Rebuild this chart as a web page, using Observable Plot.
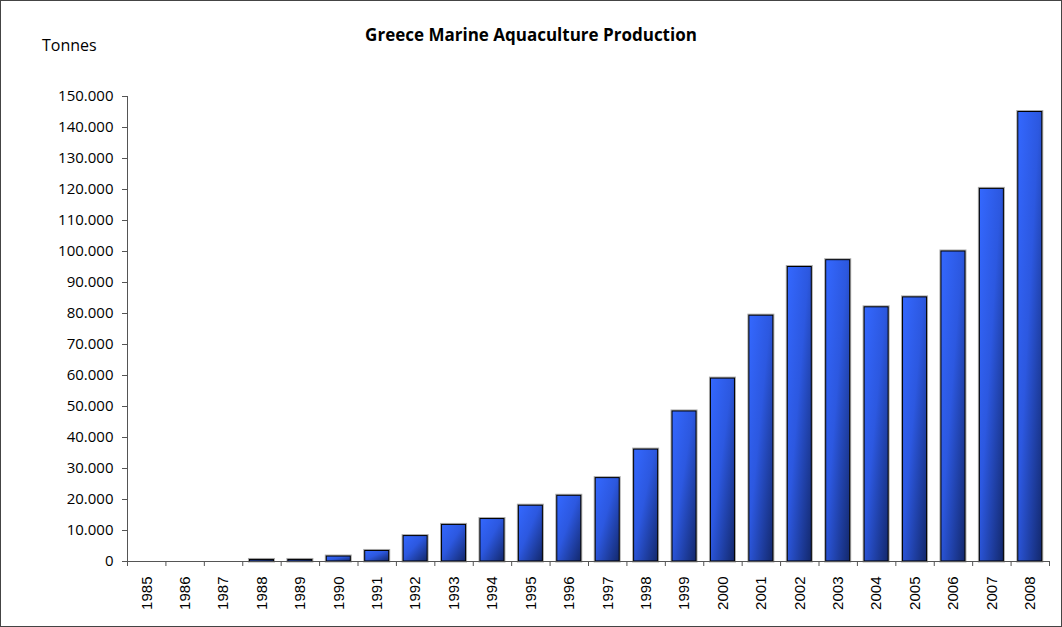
<!DOCTYPE html>
<html>
<head>
<meta charset="utf-8">
<script src="https://cdn.jsdelivr.net/npm/d3@7"></script>
<script src="https://cdn.jsdelivr.net/npm/@observablehq/plot@0.6"></script>
<style>
  html, body { margin: 0; padding: 0; background: #fff; }
  #wrap { position: relative; width: 1062px; height: 627px; }
  #wrap svg { display: block; outline: 1px solid #444; outline-offset: -1px; }
  #title { position: absolute; left: 0; width: 1062px; top: 23px; text-align: center;
           font-family: 'Open Sans', sans-serif; font-weight: bold; font-size: 17px; color: #000; }
  #unit { position: absolute; left: 42px; top: 34px; font-family: 'Open Sans', sans-serif; font-size: 16px; color: #000; }
</style>
</head>
<body>
<div id="wrap">
  <div id="title">Greece Marine Aquaculture Production</div>
  <div id="unit">Tonnes</div>
</div>
<script>
const years = [1985,1986,1987,1988,1989,1990,1991,1992,1993,1994,1995,1996,1997,1998,1999,2000,2001,2002,2003,2004,2005,2006,2007,2008];
const tonnes = [0,0,0,500,500,1600,3400,8200,11800,13700,18000,21200,26900,36100,48400,59000,79300,95000,97200,82000,85200,100000,120200,145000];
const yTicks = [0,10000,20000,30000,40000,50000,60000,70000,80000,90000,100000,110000,120000,130000,140000,150000];

const data = years.map((y, i) => ({year: y, value: tonnes[i]}));
const half = 0.3125;
const boundaries = [...years.map(y => y - 0.5), years[years.length - 1] + 0.5];
const fmt = d3.formatLocale({decimal: ",", thousands: ".", grouping: [3]}).format(",d");

function defs() {
  const ns = "http://www.w3.org/2000/svg";
  const d = document.createElementNS(ns, "defs");
  d.innerHTML = `<linearGradient id="barGrad" x1="0" y1="0" x2="1" y2="1">
      <stop offset="0" stop-color="#3468ff"/>
      <stop offset="0.45" stop-color="#2c58e0"/>
      <stop offset="1" stop-color="#13286c"/>
    </linearGradient>`;
  return d;
}

const chart = Plot.plot({
  width: 1062,
  height: 627,
  marginLeft: 127,
  marginRight: 13,
  marginTop: 96,
  marginBottom: 66,
  style: {background: "#fff", color: "#000"},
  x: {type: "linear", domain: [years[0] - 0.5, years[years.length - 1] + 0.5], axis: null},
  y: {domain: [0, 150000], axis: null},
  marks: [
    defs,
    Plot.rectY(data.filter(d => d.value > 0), {x1: d => d.year - half, x2: d => d.year + half, y: "value", fill: "none", stroke: "#aaa", strokeWidth: 3}),
    Plot.rectY(data.filter(d => d.value > 0), {x1: d => d.year - half, x2: d => d.year + half, y: "value", fill: "url(#barGrad)", stroke: "#000", strokeWidth: 1}),
    Plot.frame({anchor: "left", stroke: "#555"}),
    Plot.axisY({ticks: yTicks, tickSize: 5, tickPadding: 9, tickFormat: fmt, stroke: "#555", label: null,
      fontSize: 15, fontFamily: "'Open Sans', sans-serif", fill: "#000"}),
    Plot.axisX({ticks: boundaries, tickSize: 5, tickFormat: () => "", stroke: "#555", label: null}),
    Plot.axisX({ticks: years, tickSize: 0, tickPadding: 15, tickRotate: -90, tickFormat: d => String(d), label: null,
      fontSize: 15, fontFamily: "'Liberation Sans', Arial, sans-serif", fill: "#000"}),
    Plot.ruleY([0], {stroke: "#555"})
  ]
});
document.getElementById("wrap").prepend(chart);
</script>
</body>
</html>
